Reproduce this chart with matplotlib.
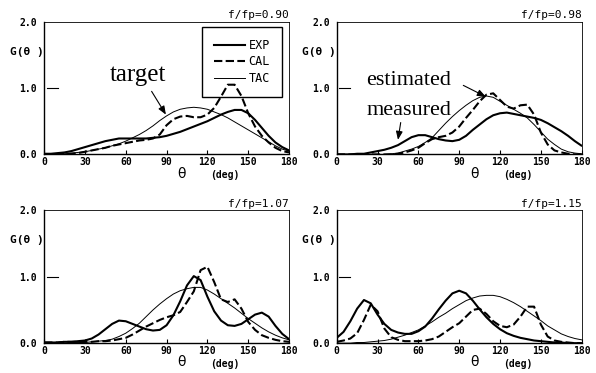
import numpy as np
import matplotlib
matplotlib.use("Agg")
import matplotlib.pyplot as plt
from matplotlib.lines import Line2D

# theta grid (deg), read every 5 degrees
THETA = np.arange(0, 181, 5)

RATIOS = ["0.90", "0.98", "1.07", "1.15"]

EXP_090 = [0.01, 0.01, 0.02, 0.03, 0.05, 0.08, 0.11, 0.14, 0.17, 0.20, 0.22, 0.24, 0.24, 0.24,
           0.24, 0.24, 0.25, 0.26, 0.28, 0.31, 0.34, 0.38, 0.42, 0.46, 0.50, 0.55, 0.60, 0.64,
           0.67, 0.67, 0.62, 0.52, 0.40, 0.28, 0.18, 0.11, 0.06]
CAL_090 = [0.00, 0.00, 0.00, 0.01, 0.01, 0.02, 0.04, 0.06, 0.08, 0.10, 0.13, 0.15, 0.17, 0.19,
           0.21, 0.22, 0.24, 0.30, 0.44, 0.53, 0.57, 0.58, 0.56, 0.56, 0.60, 0.70, 0.87, 1.05,
           1.05, 0.88, 0.62, 0.42, 0.28, 0.18, 0.10, 0.05, 0.03]
TAC_090 = [0.00, 0.00, 0.01, 0.01, 0.02, 0.03, 0.04, 0.06, 0.08, 0.10, 0.13, 0.16, 0.20, 0.25,
           0.30, 0.36, 0.43, 0.51, 0.58, 0.64, 0.68, 0.70, 0.71, 0.70, 0.68, 0.64, 0.60, 0.55,
           0.49, 0.43, 0.37, 0.31, 0.25, 0.19, 0.13, 0.08, 0.05]

EXP_098 = [0.00, 0.00, 0.00, 0.01, 0.01, 0.03, 0.05, 0.07, 0.10, 0.14, 0.20, 0.26, 0.29, 0.29,
           0.26, 0.23, 0.21, 0.20, 0.22, 0.28, 0.37, 0.45, 0.53, 0.59, 0.62, 0.63, 0.61, 0.59,
           0.57, 0.55, 0.52, 0.47, 0.41, 0.35, 0.28, 0.20, 0.13]
CAL_098 = [0.00, 0.00, 0.00, 0.00, 0.00, 0.00, 0.00, 0.00, 0.00, 0.01, 0.03, 0.06, 0.10, 0.17,
           0.23, 0.26, 0.28, 0.33, 0.42, 0.55, 0.67, 0.80, 0.90, 0.92, 0.82, 0.72, 0.69, 0.74,
           0.75, 0.60, 0.33, 0.15, 0.06, 0.03, 0.01, 0.00, 0.00]
TAC_098 = [0.00, 0.00, 0.00, 0.00, 0.00, 0.00, 0.00, 0.00, 0.01, 0.02, 0.05, 0.08, 0.12, 0.18,
           0.25, 0.36, 0.47, 0.57, 0.66, 0.74, 0.81, 0.86, 0.88, 0.86, 0.80, 0.74, 0.68, 0.62,
           0.55, 0.45, 0.34, 0.23, 0.15, 0.08, 0.04, 0.02, 0.01]

EXP_107 = [0.01, 0.01, 0.01, 0.02, 0.02, 0.03, 0.04, 0.07, 0.13, 0.21, 0.29, 0.34, 0.33, 0.29,
           0.25, 0.21, 0.19, 0.20, 0.27, 0.42, 0.63, 0.87, 1.01, 0.95, 0.70, 0.48, 0.34, 0.27,
           0.26, 0.29, 0.36, 0.43, 0.46, 0.40, 0.26, 0.14, 0.06]
CAL_107 = [0.01, 0.01, 0.01, 0.02, 0.02, 0.02, 0.02, 0.02, 0.03, 0.03, 0.04, 0.06, 0.08, 0.13,
           0.19, 0.25, 0.30, 0.35, 0.39, 0.42, 0.47, 0.62, 0.78, 1.10, 1.15, 0.92, 0.66, 0.62,
           0.66, 0.52, 0.32, 0.20, 0.12, 0.08, 0.05, 0.03, 0.02]
TAC_107 = [0.00, 0.00, 0.00, 0.00, 0.01, 0.01, 0.01, 0.02, 0.03, 0.04, 0.06, 0.10, 0.15, 0.22,
           0.30, 0.40, 0.50, 0.59, 0.67, 0.74, 0.79, 0.82, 0.84, 0.84, 0.80, 0.74, 0.67, 0.60,
           0.53, 0.45, 0.37, 0.30, 0.23, 0.17, 0.12, 0.08, 0.05]

EXP_115 = [0.08, 0.17, 0.33, 0.52, 0.65, 0.60, 0.43, 0.29, 0.20, 0.16, 0.14, 0.14, 0.18, 0.25,
           0.37, 0.51, 0.64, 0.75, 0.79, 0.75, 0.64, 0.51, 0.39, 0.29, 0.21, 0.15, 0.11, 0.08,
           0.06, 0.04, 0.03, 0.02, 0.01, 0.01, 0.00, 0.00, 0.00]
CAL_115 = [0.02, 0.04, 0.07, 0.15, 0.35, 0.58, 0.48, 0.22, 0.09, 0.05, 0.03, 0.03, 0.03, 0.04,
           0.06, 0.10, 0.17, 0.24, 0.30, 0.40, 0.50, 0.52, 0.44, 0.33, 0.26, 0.24, 0.28, 0.40,
           0.55, 0.55, 0.28, 0.10, 0.04, 0.02, 0.01, 0.00, 0.00]
TAC_115 = [0.00, 0.00, 0.00, 0.01, 0.01, 0.02, 0.03, 0.04, 0.06, 0.09, 0.12, 0.16, 0.20, 0.26,
           0.32, 0.39, 0.45, 0.52, 0.58, 0.64, 0.68, 0.71, 0.72, 0.72, 0.70, 0.66, 0.61, 0.55,
           0.48, 0.41, 0.34, 0.26, 0.20, 0.14, 0.10, 0.07, 0.05]

EXP = [EXP_090, EXP_098, EXP_107, EXP_115]
CAL = [CAL_090, CAL_098, CAL_107, CAL_115]
TAC = [TAC_090, TAC_098, TAC_107, TAC_115]

MONO = "DejaVu Sans Mono"
SERIF = "Liberation Serif"
DASH = (0, (4.0, 1.6))

fig = plt.figure(figsize=(5.96, 3.73), dpi=100)
W, H = 0.411, 0.356
positions = [(0.074, 0.586), (0.565, 0.586), (0.074, 0.080), (0.565, 0.080)]

axes = []
for i, (l, b) in enumerate(positions):
    ax = fig.add_axes([l, b, W, H])
    axes.append(ax)
    ax.plot(THETA, EXP[i], color="black", lw=1.5, solid_capstyle="round", zorder=3)
    ax.plot(THETA, CAL[i], color="black", lw=1.5, ls=DASH, zorder=3)
    ax.plot(THETA, TAC[i], color="black", lw=0.7, zorder=3)
    ax.set_xlim(0, 180)
    ax.set_ylim(0, 2.0)
    ax.set_xticks(np.arange(0, 181, 30))
    ax.set_xticklabels([str(v) for v in range(0, 181, 30)], family=MONO, fontsize=7,
                       fontweight="bold")
    ax.set_yticks([0, 1, 2])
    ax.set_yticklabels(["0.0", "1.0", "2.0"], family=MONO, fontsize=7, fontweight="bold")
    ax.tick_params(axis="x", direction="in", length=3, width=0.8, pad=2)
    ax.tick_params(axis="y", direction="in", length=0, width=0.8, pad=5)
    ax.plot([2, 10], [1.0, 1.0], color="black", lw=0.8, clip_on=False)
    for s in ("top", "right"):
        ax.spines[s].set_linewidth(0.6)
    for s in ("left", "bottom"):
        ax.spines[s].set_linewidth(1.0)
    ax.text(1.0, 1.01, "f/fp=" + RATIOS[i], transform=ax.transAxes, ha="right", va="bottom",
            family=MONO, fontsize=8)
    ax.text(-0.14, 0.775, "G(θ )", transform=ax.transAxes, ha="left", va="center",
            family=MONO, fontsize=8, fontweight="bold")
    ax.text(101, -0.145, "θ", transform=ax.get_xaxis_transform(), ha="center", va="center",
            fontsize=10)
    ax.text(133, -0.155, "(deg)", transform=ax.get_xaxis_transform(), ha="center",
            va="center", family=MONO, fontsize=7, fontweight="bold")

handles = [Line2D([], [], color="black", lw=1.5),
           Line2D([], [], color="black", lw=1.5, ls=DASH),
           Line2D([], [], color="black", lw=0.7)]
leg = axes[0].legend(handles, ["EXP", "CAL", "TAC"], loc="upper right",
                     bbox_to_anchor=(0.97, 0.96), prop={"family": MONO, "size": 8.5},
                     frameon=True, fancybox=False, edgecolor="black", framealpha=1,
                     handlelength=2.6, handletextpad=0.3, labelspacing=0.3, borderpad=1.0,
                     borderaxespad=0)
leg.get_frame().set_linewidth(1.0)
leg.set_zorder(2)

ARROW = dict(arrowstyle="-|>,head_length=0.5,head_width=0.2", color="black", lw=0.8,
             shrinkA=0, shrinkB=0)

axes[0].text(69, 1.19, "target", fontsize=18, family=SERIF, ha="center", va="center")
axes[0].annotate("", xy=(89.5, 0.6), xytext=(79, 0.95), arrowprops=ARROW)

axes[1].text(53, 1.12, "estimated", fontsize=16, family=SERIF, ha="center", va="center")
axes[1].annotate("", xy=(109.5, 0.87), xytext=(93, 1.04), arrowprops=ARROW)
axes[1].text(53, 0.66, "measured", fontsize=16, family=SERIF, ha="center", va="center")
axes[1].annotate("", xy=(45, 0.22), xytext=(47, 0.48), arrowprops=ARROW)

fig.savefig("out.png", dpi=100, facecolor="white")
